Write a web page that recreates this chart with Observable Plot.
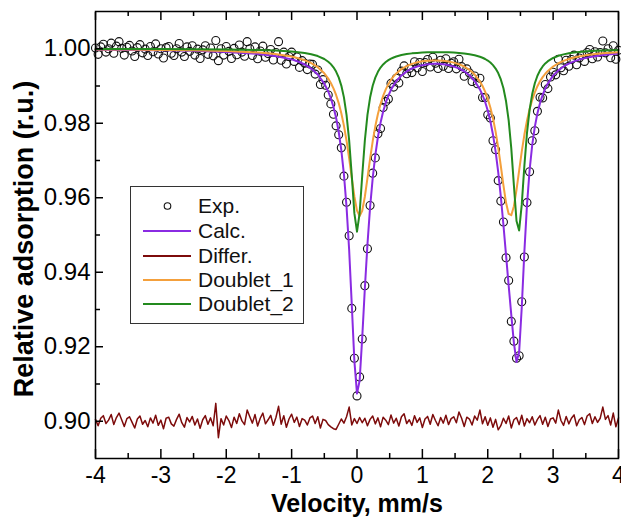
<!DOCTYPE html>
<html><head><meta charset="utf-8">
<script src="https://cdn.jsdelivr.net/npm/d3@7"></script>
<script src="https://cdn.jsdelivr.net/npm/@observablehq/plot@0.6"></script>
<style>
body{margin:0;background:#fff;}
#wrap{position:relative;width:621px;height:520px;}
#legend{position:absolute;left:129.5px;top:185.5px;}
</style></head><body><div id="wrap"></div>
<script>
// Experimental channels (velocity, mm/s)
const velocity = [-4,-3.96,-3.92,-3.88,-3.84,-3.8,-3.76,-3.72,-3.68,-3.64,-3.6,-3.56,-3.52,-3.48,-3.44,-3.4,-3.36,-3.32,-3.28,-3.24,-3.2,-3.16,-3.12,-3.08,-3.04,-3,-2.96,-2.92,-2.88,-2.84,-2.8,-2.76,-2.72,-2.68,-2.64,-2.6,-2.56,-2.52,-2.48,-2.44,-2.4,-2.36,-2.32,-2.28,-2.24,-2.2,-2.16,-2.12,-2.08,-2.04,-2,-1.96,-1.92,-1.88,-1.84,-1.8,-1.76,-1.72,-1.68,-1.64,-1.6,-1.56,-1.52,-1.48,-1.44,-1.4,-1.36,-1.32,-1.28,-1.24,-1.2,-1.16,-1.12,-1.08,-1.04,-1,-0.96,-0.92,-0.88,-0.84,-0.8,-0.76,-0.72,-0.68,-0.64,-0.6,-0.56,-0.52,-0.48,-0.44,-0.4,-0.36,-0.32,-0.28,-0.24,-0.2,-0.16,-0.12,-0.08,-0.04,0,0.04,0.08,0.12,0.16,0.2,0.24,0.28,0.32,0.36,0.4,0.44,0.48,0.52,0.56,0.6,0.64,0.68,0.72,0.76,0.8,0.84,0.88,0.92,0.96,1,1.04,1.08,1.12,1.16,1.2,1.24,1.28,1.32,1.36,1.4,1.44,1.48,1.52,1.56,1.6,1.64,1.68,1.72,1.76,1.8,1.84,1.88,1.92,1.96,2,2.04,2.08,2.12,2.16,2.2,2.24,2.28,2.32,2.36,2.4,2.44,2.48,2.52,2.56,2.6,2.64,2.68,2.72,2.76,2.8,2.84,2.88,2.92,2.96,3,3.04,3.08,3.12,3.16,3.2,3.24,3.28,3.32,3.36,3.4,3.44,3.48,3.52,3.56,3.6,3.64,3.68,3.72,3.76,3.8,3.84,3.88,3.92,3.96,4];

// Exp. relative absorption
const expAbs = [1.0002,.9985,1.0005,1.0012,.9991,1.0000,1.0015,.9988,1.0007,1.0019,
1.0001,.9983,1.0004,1.0009,.9994,.9979,1.0003,1.0011,.9989,.9999,
.9982,1.0006,.9992,1.0013,.9986,1.0000,.9975,1.0003,1.0006,.9988,
.9982,1.0000,1.0014,.9991,.9979,1.0005,.9993,1.0008,.9983,.9999,
.9974,.9997,1.0008,.9985,1.0002,.9981,1.0022,.9968,1.0000,.9983,
1.0006,.9993,.9974,1.0001,.9984,1.0010,.9991,.9980,1.0019,1.0000,
.9982,1.0005,.9973,.9994,1.0007,.9977,.9987,.9998,.9970,.9990,
1.0019,.9969,.9991,.9959,.9979,.9991,.9966,.9978,.9950,.9968,
.9961,.9944,.9959,.9958,.9932,.9943,.9904,.9917,.9902,.9876,
.9852,.9824,.9793,.9769,.9734,.9658,.9588,.9498,.9303,.9169,
.9068,.9119,.9221,.9364,.9463,.9579,.9666,.9707,.9772,.9786,
.9842,.9858,.9865,.9907,.9897,.9921,.9908,.9940,.9954,.9933,
.9947,.9936,.9965,.9949,.9963,.9939,.9963,.9971,.9951,.9977,
.9961,.9947,.9969,.9953,.9973,.9947,.9961,.9965,.9946,.9972,
.9952,.9926,.9946,.9935,.9912,.9927,.9906,.9921,.9869,.9869,
.9823,.9814,.9753,.9729,.9646,.9591,.9535,.9439,.9378,.9268,
.9215,.9169,.9176,.9321,.9441,.9587,.9670,.9753,.9780,.9832,
.9870,.9868,.9904,.9893,.9924,.9937,.9930,.9972,.9949,.9941,
.9969,.9953,.9971,.9983,.9957,.9975,.9983,.9966,.9990,.9998,
.9973,.9992,.9978,.9990,1.0021,.9989,1.0000,.9976,1.0008,.9972,.9996];

// Differ. (residual, offset to 0.90)
const differ = [.9005,.8988,.9008,.9015,.8994,.9003,.9018,.8991,.9010,.9022,
.9004,.8986,.9007,.9012,.8997,.8982,.9006,.9014,.8992,.9002,
.8985,.9009,.8995,.9016,.8989,.9003,.8980,.9008,.9011,.8993,
.8987,.9005,.9019,.8996,.8984,.9010,.8998,.9013,.8990,.9006,
.8981,.9004,.9015,.8992,.9009,.8988,.9048,.8956,.9007,.8990,
.9014,.9002,.8983,.9011,.8994,.9020,.9001,.8991,.9030,.9012,
.8995,.9018,.8987,.9008,.9022,.8993,.9004,.9016,.8989,.9010,
.9040,.8992,.9015,.8984,.9006,.9019,.8997,.9011,.8986,.9007,
.9003,.8990,.9009,.9014,.8994,.9012,.8982,.9005,.9002,.8991,
.8985,.8980,.8978,.8992,.9006,.8995,.9012,.9038,.8990,.9007,
.8994,.9010,.8996,.9008,.8988,.9005,.9014,.8993,.9009,.8985,
.9011,.9003,.8991,.9017,.8995,.9008,.8987,.9012,.9020,.8994,
.9004,.8989,.9015,.8997,.9009,.8983,.9006,.9013,.8992,.9018,
.9002,.8988,.9010,.8995,.9016,.8991,.9007,.9012,.8996,.9025,
.9008,.8986,.9011,.9006,.8990,.9014,.9003,.9030,.8993,.9012,
.8989,.9009,.8984,.9005,.8977,.8988,.9008,.8994,.9014,.8982,
.9004,.9010,.8991,.9016,.8987,.9007,.8996,.9012,.8990,.9005,
.9015,.8992,.9011,.8986,.9006,.9009,.8995,.9030,.9002,.8989,
.9013,.8993,.9008,.9017,.8988,.9004,.9010,.8991,.9014,.9020,
.8994,.9012,.8997,.9008,.9038,.9005,.9015,.8990,.9022,.8985,.9009];

// Fitted curves
const fitVelocity = [-4,-3.5,-3,-2.5,-2,-1.5,-1.25,-1,-0.9,-0.8,-0.7,-0.6,-0.5,-0.44,
-0.4,-0.36,-0.32,-0.28,-0.24,-0.2,-0.16,-0.12,-0.08,-0.04,0,0.04,0.08,0.12,0.16,0.2,0.24,0.28,0.32,0.36,0.4,0.44,0.48,0.52,0.56,0.6,
0.68,0.76,0.84,0.92,1,1.08,1.16,1.24,1.32,1.4,1.48,1.56,1.64,1.72,1.8,1.88,
1.92,1.96,2,2.04,2.08,2.12,2.16,2.2,2.24,2.28,2.32,2.36,2.4,2.44,2.48,2.52,2.56,2.6,2.64,2.68,2.72,2.76,2.8,2.84,2.88,2.92,
3,3.08,3.16,3.24,3.32,3.4,3.52,3.64,3.76,3.88,4];
const calcAbs = [.99975,.99969,.99959,.99944,.99916,.99861,.99808,.99715,.99657,.99578,.99469,.99309,.99065,.98852,
.98668,.98439,.98147,.97772,.97281,.9663,.95757,.94596,.93134,.91615,.90742,.91088,.92246,.93564,.94748,.95743,.96522,.97143,.97631,.98012,.98313,.98552,.98743,.98897,.99023,.99127,
.99284,.99393,.9947,.99523,.9956,.99583,.99594,.99594,.99583,.99561,.99525,.99472,.99396,.99288,.99134,.98909,
.98758,.98572,.98341,.98053,.97693,.97244,.96691,.96029,.95269,.94453,.9364,.92855,.92105,.91588,.91853,.93052,.94543,.95803,.96738,.97411,.97902,.98268,.98546,.98762,.98933,.99071,
.99278,.9942,.99524,.99602,.99662,.99709,.99762,.99801,.99832,.99855,.99874];
const doublet1 = [.99982,.99977,.99969,.99958,.99938,.99897,.99858,.9979,.99749,.99693,.99615,.99505,.9934,.99199,
.99082,.98937,.9876,.98541,.9827,.97936,.97531,.97056,.96536,.96035,.95653,.9551,.9565,.96027,.96525,.97044,.97516,.97918,.9825,.98518,.98734,.98908,.99049,.99164,.99258,.99335,
.99453,.99536,.99594,.99635,.99662,.99679,.99686,.99686,.99676,.99658,.99628,.99585,.99523,.99434,.99308,.99123,
.99,.98847,.98658,.98424,.98133,.97775,.97345,.96852,.96331,.95864,.95565,.95531,.95773,.96212,.9673,.97238,.9769,.98068,.98378,.98627,.9883,.98994,.99128,.99238,.99329,.99405,
.99524,.9961,.99675,.99725,.99764,.99795,.99831,.99858,.99879,.99895,.99908];
const doublet2 = [.99994,.99992,.9999,.99986,.99979,.99964,.9995,.99925,.99908,.99886,.99853,.99804,.99725,.99652,
.99587,.99501,.99387,.99231,.99011,.98694,.98226,.9754,.96598,.9558,.95089,.95578,.96596,.97537,.98223,.9869,.99006,.99225,.99381,.99495,.9958,.99644,.99694,.99734,.99766,.99791,
.9983,.99857,.99876,.99889,.99898,.99904,.99907,.99908,.99907,.99903,.99897,.99887,.99874,.99854,.99826,.99785,
.99758,.99725,.99683,.99629,.9956,.99469,.99347,.99177,.98938,.98589,.98075,.97325,.96332,.95376,.95122,.95814,.96853,.97735,.9836,.98784,.99073,.99274,.99419,.99525,.99605,.99666,
.99753,.9981,.99849,.99877,.99898,.99914,.99931,.99944,.99953,.9996,.99966];

const xTicks = [-4,-3,-2,-1,0,1,2,3,4];
const xMinorTicks = [-3.5,-2.5,-1.5,-0.5,0.5,1.5,2.5,3.5];
const yTicks = [0.90,0.92,0.94,0.96,0.98,1.00];
const yMinorTicks = [0.91,0.93,0.95,0.97,0.99];
const legendLabels = ["Exp.","Calc.","Differ.","Doublet_1","Doublet_2"];
const seriesColors = ["#111111","#8a2be2","#7d0b0b","#f4a03c","#238a1e"];
const xTitle = "Velocity, mm/s";
const yTitle = "Relative adsorption (r.u.)";

const expData = velocity.map((v, i) => ({v, y: expAbs[i]}));
const diffData = velocity.map((v, i) => ({v, y: differ[i]}));
const fitData = fitVelocity.map((v, i) => ({v, calc: calcAbs[i], d1: doublet1[i], d2: doublet2[i]}));

const font = "'Liberation Sans', Arial, Helvetica, sans-serif";
const blank = () => "";

const chart = Plot.plot({
  width: 621, height: 520,
  marginTop: 11, marginRight: 3, marginBottom: 62, marginLeft: 95,
  style: {fontFamily: font, background: "#fff", color: "#000", overflow: "visible"},
  x: {domain: [-4, 4]},
  y: {domain: [0.89, 1.01]},
  marks: [
    Plot.dot(expData, {x: "v", y: "y", r: 4, stroke: seriesColors[0], fill: "none", strokeWidth: 1.1}),
    Plot.line(fitData, {x: "v", y: "calc", stroke: seriesColors[1], strokeWidth: 2}),
    Plot.line(diffData, {x: "v", y: "y", stroke: seriesColors[2], strokeWidth: 1.5}),
    Plot.line(fitData, {x: "v", y: "d1", stroke: seriesColors[3], strokeWidth: 2}),
    Plot.line(fitData, {x: "v", y: "d2", stroke: seriesColors[4], strokeWidth: 2}),
    Plot.axisX({ticks: xTicks, tickFormat: d => `${d}`, tickSize: -9, tickPadding: 17, fontSize: 23, strokeWidth: 1.5, label: null}),
    Plot.axisX({ticks: xMinorTicks, tickFormat: blank, tickSize: -5, strokeWidth: 1.5, label: null}),
    Plot.axisX({anchor: "top", ticks: xTicks, tickFormat: blank, tickSize: -8, strokeWidth: 1.5, label: null}),
    Plot.axisX({anchor: "top", ticks: xMinorTicks, tickFormat: blank, tickSize: -4, strokeWidth: 1.5, label: null}),
    Plot.axisY({ticks: yTicks, tickFormat: d3.format(".2f"), tickSize: -8, tickPadding: 13, fontSize: 24, strokeWidth: 1.5, label: null}),
    Plot.axisY({ticks: yMinorTicks, tickFormat: blank, tickSize: -5, strokeWidth: 1.5, label: null}),
    Plot.frame({stroke: "#000", strokeWidth: 1.5}),
    Plot.text([xTitle], {text: d => d, frameAnchor: "bottom", textAnchor: "middle", lineAnchor: "middle", dy: 45, fontSize: 25, fontWeight: "bold"}),
    Plot.text([yTitle], {text: d => d, frameAnchor: "left", textAnchor: "middle", lineAnchor: "middle", rotate: -90, dx: -71, dy: 4, fontSize: 27, fontWeight: "bold"})
  ]
});
const wrap = document.getElementById("wrap");
wrap.appendChild(chart);

// Legend box (inside the plot area)
const lg = d3.create("svg").attr("id", "legend").attr("width", 175).attr("height", 139)
  .style("font-family", font);
lg.append("rect").attr("x", 0.5).attr("y", 0.5).attr("width", 173).attr("height", 137)
  .attr("fill", "#fff").attr("stroke", "#333").attr("stroke-width", 1);
const rowY = [20, 45, 70, 94, 118];
legendLabels.forEach((lab, i) => {
  const y = rowY[i];
  if (i === 0) {
    lg.append("circle").attr("cx", 37.5).attr("cy", y).attr("r", 3.3)
      .attr("fill", "none").attr("stroke", seriesColors[0]).attr("stroke-width", 1.1);
  } else {
    lg.append("line").attr("x1", 13).attr("x2", 61).attr("y1", y).attr("y2", y)
      .attr("stroke", seriesColors[i]).attr("stroke-width", 2);
  }
  lg.append("text").attr("x", 68).attr("y", y).attr("dy", "0.35em")
    .attr("font-size", 21).attr("fill", "#111").text(lab);
});
wrap.appendChild(lg.node());
</script>
</body></html>
